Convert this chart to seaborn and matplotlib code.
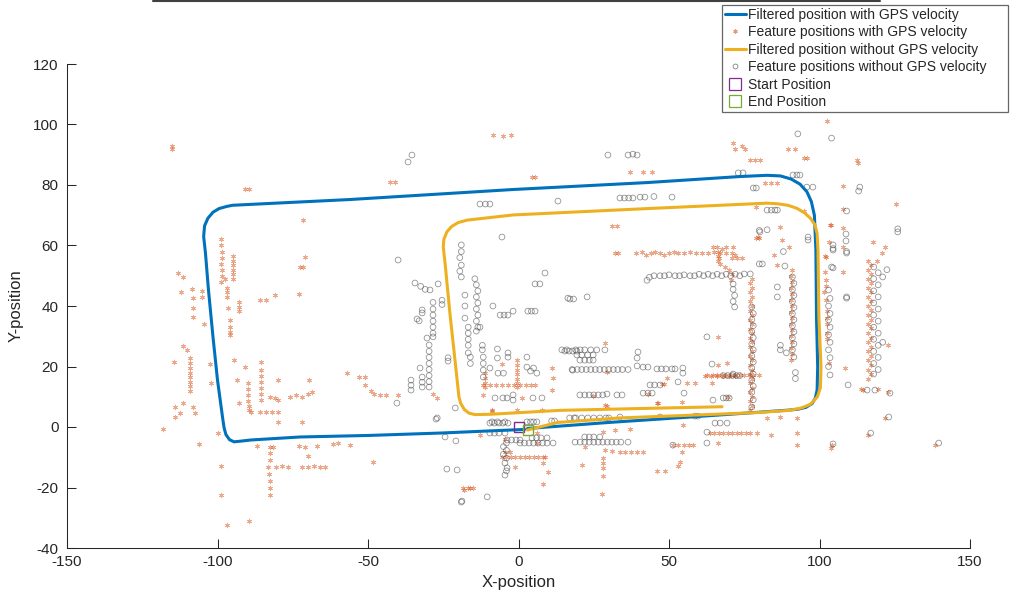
import numpy as np
import pandas as pd
import seaborn as sns
import matplotlib.pyplot as plt
from matplotlib.lines import Line2D

# Filtered trajectories (x, y)
traj_gps = [
    (2, -0.8), (-26, -2), (-50, -2.8), (-72.6, -3.3), (-89, -4.3), (-92.5, -4.7), (-94.5, -4.9),
    (-96, -4.2), (-97.2, -2.5), (-97.8, -0.3), (-98.2, 2.3),
    (-100, 15.5), (-101.5, 29.8), (-103, 45.3), (-104, 57.5), (-104.6, 63),
    (-104.3, 66.5), (-103.2, 69), (-101.5, 71), (-99.5, 72.2), (-97, 72.9), (-95, 73.3),
    (-56, 75.2), (-2, 78.5), (42.7, 80.8), (73.6, 82.8), (82.6, 83.2),
    (87, 83), (90.5, 82), (93.5, 80.3), (95.8, 77.8), (97.3, 74.5), (98.3, 70),
    (98.8, 58.5), (99, 36.4), (99.4, 19.8), (99.2, 12.2),
    (98.6, 9.5), (97.5, 7.7), (95.5, 6.5), (93, 5.9), (90, 5.6),
    (60, 3.5), (30, 1.5), (3, -0.5),
]
traj_nogps = [
    (3, -1), (13, 1.5), (33.7, 3), (60, 4), (80, 4.8), (90, 5.5),
    (94, 6.3), (97, 7.5), (99.3, 10), (100.3, 13),
    (100.5, 19.8), (99.8, 36.4), (99.5, 58.5), (99.2, 64),
    (98.5, 66.8), (97, 69), (95, 70.8), (92.5, 72.3), (89.5, 73.3), (86, 73.8), (82.6, 74),
    (42.7, 72.2), (-1.8, 70.1), (-17, 68.4),
    (-20, 67.6), (-22.2, 66.3), (-23.8, 64.5), (-24.8, 62), (-25, 59.5),
    (-24.4, 54.2), (-22.8, 37.7), (-21, 21.2), (-19.8, 10),
    (-19.2, 7.8), (-18, 5.8), (-16.5, 4.6), (-14.5, 4.1), (-9.5, 4.2),
    (13.8, 5.5), (40, 6.1), (67.6, 6.7),
]

start_pos = (0, 0)
end_pos = (3, -1)

# Feature positions with GPS velocity
feat_gps_left = [
    (-118, -0.5), (-115, 93), (-115, 92), (-113, 51), (-111.5, 49.5), (-112, 44.5), (-108.5, 45.6),
    (-108, 42.6), (-108, 39.3), (-108, 36.4), (-105, 44.9), (-105, 43), (-104.5, 34), (-111.5, 26.8),
    (-110, 25.5), (-109, 22.8), (-109, 21), (-109, 19.5), (-109, 18), (-109, 16.5), (-109, 15),
    (-109, 13.5), (-109, 12), (-114.5, 21.5), (-102.5, 20.8), (-102, 14.5), (-111.5, 8), (-114, 6.6),
    (-114, 3.3), (-112.5, 4.6), (-108, 6.6), (-107.5, 4.6), (-106, -5.6), (-100, -2), (-99, -12.9),
    (-99, -22.5), (-97, -32.5), (-89.5, -31),
    (-99, 62), (-99, 60), (-98.5, 58), (-98.5, 56), (-99, 54), (-98.5, 52), (-98.5, 50), (-99, 48),
    (-95, 56.5), (-95, 55), (-95, 53.5), (-95, 52), (-95, 50.5), (-95, 49),
    (-97.5, 49), (-97, 46), (-97, 44.5), (-97, 43), (-93, 41.3), (-93, 39.8), (-93, 38.3),
    (-96.5, 39.3), (-96, 35.4), (-96, 33), (-96, 31.5), (-96, 30.4), (-94.5, 22), (-91, 20),
    (-93.5, 15.5), (-93, 8), (-90, 14.5), (-90, 12.5), (-90, 10.5), (-90, 8.5), (-89.5, 7), (-89.5, 5.6),
    (-89, 5), (-86, 5), (-84, 5), (-82, 5), (-80, 5),
    (-85.5, 21.5), (-85.5, 19), (-85.5, 17), (-85.5, 15), (-85.5, 13), (-85.5, 11), (-85.5, 9),
    (-82.5, 10), (-81, 9.5), (-80, 9), (-80, 15.5), (-84, 42), (-86, 42), (-81, 43.6),
    (-71.5, 68.4), (-71, 56.3), (-72.5, 52.9), (-71.5, 52.9), (-73, 44),
    (-76, 10), (-74, 10.5), (-72, 10), (-70, 11), (-68.6, 11.5), (-69.5, 15.5), (-80, 1.7), (-72, 1.7),
    (-87, -6.3), (-82.6, -6.6), (-81.5, -6.6), (-73, -6.3), (-71, -6.6), (-67, -6.3), (-61.6, -5.6),
    (-60, -5.3), (-82.6, -8.6), (-82.6, -11), (-83, -15.5), (-82.6, -18), (-82.6, -20), (-82.6, -22.5),
    (-83.3, -13.2), (-80.5, -13.2), (-78.5, -12.8), (-76.5, -13.2), (-72, -13.2), (-70, -13.2),
    (-68, -12.8), (-66, -13.2), (-64.3, -13.2), (-70, -9.6), (-57, 17.9), (-91, 78.8), (-89.5, 78.8),
    (-53, 16.5), (-51, 16.5), (-51, 14), (-49, 12), (-48, 11), (-46, 10.5), (-44, 10.5), (-40, 10.6),
    (-42.7, 81), (-41, 81), (-48.5, -11.5), (-56, -6), (-18, -20.8), (-16, -20.2),
]
feat_gps_top = [
    (-8.5, 96.5), (-5, 96.2), (-2.5, 96.5), (4.5, 82.6), (5.5, 82.6), (37, 84.3), (41.4, 84.3),
    (44.4, 84.3), (71.3, 94), (74.3, 93), (75.3, 92), (72, 92), (77, 88.4), (78.5, 88.4), (80.2, 88.4),
    (82, 80.7), (84, 80.7), (86, 80.7), (89.6, 92), (92, 92), (79, 72.7), (87, 66), (31, 66.5),
    (32.7, 66.5), (79.5, 62.8), (95, 89), (96, 89), (102.5, 101.3), (112.5, 88.4), (112.8, 87.3),
    (107.8, 79.7), (125.4, 73.7), (95, 71.5),
]
feat_gps_right = [
    (107.8, 72.1), (103.8, 66.8), (107.8, 65.8), (103, 61.2), (107.8, 59.5), (102, 56.2), (107.8, 51.2),
    (101.8, 51.2), (102, 48.6), (102, 46.5), (101.5, 44.5), (102, 42), (102.5, 38.3), (102.5, 36),
    (102.5, 34), (102.5, 31), (102.5, 29), (103, 21), (108.5, 19.5), (104, -6), (103.8, -7),
    (116.2, 55), (117, 53.5), (116.2, 52), (117, 50.6), (116.2, 49), (117, 47.5), (116.2, 46),
    (117, 44.6), (116.2, 43), (117, 41.5), (116.2, 40), (117, 38.6), (116.2, 37), (117, 35.5),
    (116.2, 34), (117, 32.6), (116.2, 31), (117, 29.5), (116.2, 28), (117, 26.6), (116.2, 25),
    (117, 23.5), (116.2, 22), (117, 20.6), (116.2, 19), (117, 17.5), (116.2, 16),
    (117.8, 61.2), (120.8, 57.5), (121.8, 59.5), (119, 55), (122.8, 27), (114.5, 12.2), (113.8, 12.6),
    (119.4, 12.6), (122.8, 11.6), (121.8, 3), (116, -2.6), (138.4, -6),
    (90, 59.5), (85, 56.8), (86, 53.5), (87.6, 61.8), (79, 62.6), (80, 62.6), (103.5, 66.8), (101.8, 56.5),
    (64.6, 59.5), (66, 59.5), (67.5, 59), (69, 59.5), (71.3, 59.5), (66.3, 58), (66.3, 56.5), (66.3, 55),
    (71, 56), (72.5, 56), (74.2, 56),
    (77.5, 49), (77, 47.5), (77.5, 46), (77, 44.5), (77.5, 43), (77, 41.5), (77.5, 40), (77, 38.5),
    (77.5, 37), (77, 35.5), (77.5, 34), (77, 32.5), (77.5, 31), (77, 29.5), (77.5, 28), (77, 26.5),
    (77.5, 25), (77, 23.5), (77.5, 22), (77, 20.5), (77.5, 19), (77, 17.5), (77.5, 16), (77, 14.5),
    (77.5, 13), (77, 11.5), (77.5, 10), (77, 8.5), (77.5, 7), (77, 5.6),
    (91, 52), (90.5, 50), (91, 48), (90.5, 46), (91, 44), (90.5, 42), (91, 40), (90.5, 38), (91, 36),
    (90.5, 34), (91, 32), (90.5, 30), (91, 28), (90.5, 26), (91, 24), (90.5, 22),
    (62.6, 17.2), (64.5, 17.2), (66, 17.2), (67.5, 17.2), (69, 17.2), (70.5, 17.2), (72, 17.2),
    (73.5, 17.2), (75, 17.2), (76.5, 17.2), (78, 17.2), (80, 17.2),
    (92.5, 3), (92.5, -2), (92.5, -6), (87, 3.3), (82.6, 3), (84, -2.6),
    (63.6, -2), (65, -2), (66.5, -2), (68, -2), (69.5, -2), (71, -2), (72.5, -2), (74, -2), (75.5, -2),
    (77, -2), (79.2, -2), (66.3, -5.3),
]
feat_gps_center = [
    (32, 57.5), (33, 57.5), (39, 57.5), (41, 58), (42.5, 57), (44, 57.5), (45.5, 58), (47, 57.5),
    (48.5, 57), (50, 57.5), (51.5, 58), (53, 57.5), (55, 57.5), (57, 58), (59, 57.5), (61, 57.5),
    (63, 57.5), (65, 58), (67, 57.5), (69, 57.5), (71, 57.5), (72, 57),
    (66.5, 56), (67, 54), (68.5, 53), (70, 52), (71, 50.5), (70.5, 48.6),
    (66.3, 29.8), (28.7, 27.8), (29.4, 18.2), (47.7, 14.2), (49.3, 16.2), (48.5, 14.2), (56, 14.5),
    (58.6, 14.5), (64.3, 14.5), (62, 16.9), (64, 16.9), (66, 16.9), (68, 16.9), (70, 16.9), (72, 16.9),
    (66.3, 20.5), (69.3, 21), (24.8, 10.2), (43, 10.9), (28.7, 7.3), (46, 7.9), (54.3, 8.3), (69.6, 9.9),
    (-5.5, 20.8), (-0.5, 22), (-0.5, 20.5), (-0.5, 19), (-0.5, 17.5), (-0.5, 16), (-0.5, 14.5),
    (-0.5, 13.2), (-11, 17.8), (-11, 16.2), (-11, 14.6), (-11, 13.2),
    (-11.8, 13.9), (-9.5, 13.9), (-7.5, 13.9), (-5.5, 13.9), (-3.5, 13.9), (-1.5, 13.9), (0.5, 13.9),
    (2.5, 13.9), (4, 13.9), (5.5, 13.9),
    (11, 19.5), (11.5, 16.2), (11, 12.2), (-11.8, 10.6), (1, 9.6), (-8.8, 5.6), (-0.5, 5.6), (7.8, 5.6),
    (-27, 9.6), (-28.5, 11),
]
feat_gps_bottom = [
    (-12.8, -2.6), (-5.5, -9.9), (-4, -9.9), (-2.5, -9.9), (-1, -9.9), (0.5, -9.9), (2, -9.9),
    (3.5, -9.9), (5, -9.9), (6.5, -9.9), (8, -9.9), (8.8, -9.9),
    (-4.5, -8.3), (-2.8, -8.3), (-1.2, -13.2), (8, -11.9), (9.8, -14.9), (8, -18.8),
    (-18.4, -20.2), (-16.7, -20.2), (-15, -20.2), (6, -2), (22, -6.6), (21, -12.6), (28, -1.6),
    (28.7, -7.6), (28, -10.2), (28, -12), (28, -13.5), (28, -16.2), (27.7, -22.1), (31, -7.9), (32, -1),
    (33.7, -8.3), (35.5, -8.3), (37.5, -8.3), (39.5, -8.3), (41.4, -8.3),
    (37, -0.7), (46.3, 7.9), (29.4, 6.9), (53.7, -11.6), (53, -13), (46, -14.5), (48.7, -14.5),
    (51.3, -5.9), (53, -5.9), (55, -5.9), (56.5, -5.9), (58, -5.9),
    (54.3, -8.3), (54.7, 0.7), (-8.8, 5.3), (6, -5.3), (-4.5, -4),
]

# Feature positions without GPS velocity
feat_nogps_top = [
    (-35.4, 89.9), (-36.7, 87.6), (29.7, 89.9), (36.4, 89.9), (38, 90.2), (39.4, 89.9), (-12.8, 73.7),
    (-11, 73.7), (-9.5, 73.7), (13.1, 74.7), (33.7, 75.7), (35.2, 75.7), (36.6, 75.7), (38, 75.7),
    (40.4, 76), (42, 76), (45, 76.2), (51, 76), (-5.5, 62.8), (73, 84), (74.6, 84), (78, 79), (79, 79),
    (82.6, 71.7), (84, 71.7), (85.2, 71.7), (86, 71.7), (80.2, 64.5), (82.6, 65.2), (91.2, 83.3),
    (92.5, 83.3), (93.5, 83.3), (92.8, 96.9), (95.8, 79.3), (97.8, 79.3), (113.4, 79.3), (113, 78),
    (109, 71.4), (96.2, 62.8), (96.2, 61.8), (80, 65), (108.8, 61.5), (104.5, 60.2), (104.5, 59),
    (109, 58), (88, 58), (80, 53.9), (81, 53.9), (88.5, 53.2), (104.5, 52.6), (104, 95.5),
    (126, 65.5), (126, 64.5), (108.8, 63.8),
]
feat_nogps_right = [
    (42.7, 48.5), (43.5, 49.5), (45, 50), (47, 50), (48.5, 50), (50, 50.3), (52, 50), (53.5, 50),
    (55, 50.3), (57, 50), (58.5, 50), (60, 50.5), (61.5, 50), (63, 50.5), (64.5, 50), (66, 50.5),
    (67.5, 50), (69, 50.5), (70.5, 50), (72, 50.5), (73.5, 50), (75, 50.6), (77, 50.6),
    (71.3, 47.3), (71.3, 45.5), (71.8, 43.5), (71.3, 41.5), (71.8, 39.7),
    (77.5, 39.7), (78, 37.5), (77.5, 35.5), (78, 33.5), (77.5, 31.5), (78, 29.5), (77.5, 27.5),
    (78, 25.5), (77.5, 23.5), (78, 21.5), (77.5, 19.5), (78, 17.5), (77.5, 15.5), (78, 13.5),
    (77.5, 11.5), (78, 9), (77.5, 6.6),
    (91, 49.6), (91.5, 47.5), (91, 45.5), (91.5, 43.5), (91, 41.5), (91.5, 39.5), (91, 37.5),
    (91.5, 35.5), (91, 33.5), (91.5, 31.5), (91, 29.5), (91.5, 27.5), (91, 25.5), (91.5, 23.1),
    (86, 46.3), (86, 43), (87, 27), (87, 25.5), (89, 24.5), (92, 18), (92, 16),
    (103, 45.3), (103.5, 42.5), (103, 40), (103.5, 37.5), (103, 35.4), (103.5, 33), (103, 30.5),
    (103.5, 28), (103, 25.5), (103.5, 22.9), (103, 20), (103.5, 17.2),
    (104.5, 58.5), (109, 57.5), (104, 52.9), (109, 42.6), (109.5, 13.9),
    (118, 52.9), (119.5, 51), (118, 49), (119.5, 47), (118, 45), (119.5, 43), (118, 41), (119.5, 39),
    (118, 37), (119.5, 35), (118, 33), (119.5, 31), (118, 29), (119.5, 27), (118, 25), (119.5, 23),
    (118, 21), (119.5, 19), (118, 17.5),
    (122.4, 52), (121, 49.6), (121, 28), (115.8, 12.2), (118.4, 12.2), (123.4, 11.2), (123, 3.3),
    (117, -2), (139.6, -5.3), (104.5, -5.6), (109, 43),
]
feat_nogps_center = [
    (-40, 55.2), (-34.4, 47.6), (-32.5, 46.5), (-31, 45.5), (-29.4, 45.3), (-26.7, 47.3),
    (-28.4, 41.2), (-28.4, 39), (-28.4, 37), (-28.4, 35), (-28.4, 33), (-28.4, 31), (-28.4, 29.8),
    (-25.4, 41.9), (-25.4, 40.5), (-32, 38.7), (-32, 37.7), (-33.7, 35.7), (-33, 35.1), (-30.4, 29.4),
    (-29.7, 27.1), (-29.7, 25), (-29.7, 23), (-29.7, 21), (-29.7, 19), (-29.7, 17), (-29.7, 15),
    (-29.7, 13.2), (-32.7, 19.5), (-35.7, 15.5), (-35.7, 13.8), (-35.7, 12.2), (-32, 16.5), (-32, 14.8),
    (-32, 13.2), (-23.4, 22.9), (-23.4, 21.8), (-40.4, 7.9), (-27, 3), (-21, 6.3),
    (-19, 60.2), (-19, 58), (-19.5, 56), (-19, 53.5), (-19.5, 51.5), (-19, 49.6),
    (-14.5, 49), (-14, 47), (-13.5, 45), (-14, 43), (-13.5, 41), (-14, 39), (-13.5, 37), (-14, 35),
    (-13.5, 33), (-14, 31.7), (-17.8, 43.6), (-17.8, 40), (-17.8, 36),
    (-16.7, 33), (-16.7, 31), (-16.7, 29), (-16.7, 27), (-16.7, 24.5), (-12.8, 33), (-12, 27),
    (-12, 25.5), (-16, 23.1), (-16, 21), (-11.7, 23.1), (-11.7, 21), (-11.7, 18.8), (-11.7, 16.5),
    (-7, 25.8), (-7, 22.8), (-3.5, 24.5), (-3.5, 23.1), (2.8, 23.1), (-9.5, 19.5), (2.8, 19.8),
    (4, 18.5), (6.1, 17.8), (5, 19.5), (-6.8, 17.8), (-5, 17.8), (-7.8, 9.6), (-5.2, 9.6), (-3.8, 9.6),
    (-1.8, 10.6), (-1.8, 8.9), (4.8, 9.6), (7.8, 9.6), (8.8, 50.9), (5.5, 47.3), (7.1, 47.3),
    (-8.5, 40), (-6.1, 37), (-4.8, 37), (-3.5, 37), (-1.8, 38.3), (3.1, 38.3), (4.3, 38.3), (5.5, 38.3),
    (17.1, 42.3), (18.3, 42.3), (16.4, 42.6), (22.8, 43), (15.4, 25.1), (16.8, 25.1), (18, 25.1),
    (19.4, 25.1), (18, 18.8), (-9.5, 1.3), (-8, 1.3), (-6.5, 1.3), (-5.2, 1.3), (-3.5, 1.3), (2.8, 1.7),
    (4, 1.7), (5, 1.7), (6.1, 1.7), (11, 2), (12, 2), (17, 3), (18.5, 3),
    (14.4, 25.5), (16, 25.5), (19, 25.5), (20.5, 25.5), (22, 25.5), (24, 25.5), (26, 25.5), (28.7, 25.5),
    (19.4, 23.8), (21, 23.8), (23, 23.8), (24.8, 23.8), (20.4, 22.1), (22, 22.1), (23.5, 22.1),
    (24.8, 22.1), (39.7, 24.8), (39.4, 22.8), (39.4, 20.2),
    (17.8, 19), (19.5, 19), (21, 19), (22.5, 19), (24, 19), (25.5, 19), (27, 19), (28.5, 19), (30, 19),
    (31.5, 19), (33, 19), (34.5, 19), (36.4, 19),
    (41.4, 19.8), (43, 19.8), (46, 19.2), (47.5, 19.2), (49, 19.2), (51, 19.2), (52, 19.2), (54.6, 19.5),
    (54.6, 17.8), (64.3, 20.8), (71.3, 17.5), (68, 17), (69.5, 17), (71, 17), (72.5, 17), (73.5, 17),
    (53, 14.9), (43.7, 13.9), (45.2, 13.9), (47, 13.9),
    (20.4, 10.6), (22, 10.6), (23.5, 10.6), (25, 10.6), (26.5, 10.6), (28, 10.6), (29.4, 10.9),
    (32.7, 10.6), (34.4, 10.6), (41.4, 11.2), (43, 11.2), (44.4, 11.2), (55, 11.2), (64.6, 8.9),
    (68, 9.6), (69, 9.6), (70, 9.6), (47, 3.3), (58.6, 3.6), (65.3, 1.3), (67, 1.3), (69.3, 1.3),
    (19, 3), (21, 3), (23, 3), (25, 3), (27, 3), (29, 3), (30, 3), (62.6, 29.8),
]
feat_nogps_bottom = [
    (-8.8, 1.7), (-7, 1.7), (-4.5, 1.7), (33.7, 3.3), (59.6, 3.6), (-24.4, -3.3), (-20.8, -4.6),
    (-9.5, -2), (-8, -2), (-6.5, -2), (-4.5, -2), (-3.8, -4.3), (-2.3, -4.3), (-0.8, -4.3), (0.5, -4.3),
    (0.5, -5.3), (2, -5.3), (3.5, -5.3), (5, -5.3), (6.5, -5.3), (8, -5.3), (9.5, -5.3), (11.5, -5.3),
    (4.5, -3.6), (6, -3.6), (7.5, -3.6), (9.5, -3.6),
    (18.8, -5), (20.5, -5), (22, -5), (23.5, -5), (25, -5), (26.5, -5), (28, -5), (29.5, -5), (31, -5),
    (32.5, -5), (34, -5), (36.4, -5), (22, -3.3), (23.5, -3.3), (25, -3.3), (27, -3.3),
    (-4, -5.3), (-5, -6.5), (-4, -7.7), (-5, -9), (-4, -10.3), (-4.5, -11.9), (-3.8, -13.5),
    (-4.5, -15.9), (-4, -14.5), (-23.8, -13.9), (-20.4, -14.2), (-10.4, -23.1), (-18.8, -24.5),
    (51.3, -6), (62.6, -5.3), (62.6, -1.7), (-27.4, 2.6), (-19, -24.8),
]

BLUE = "#0072BD"
ORANGE = "#EDB120"
RED = "#D95319"
PURPLE = "#7E2F8E"
GREEN = "#77AC30"
ASTERISK = (6, 2, 0)


def to_df(*groups):
    pts = [p for g in groups for p in g]
    return pd.DataFrame(pts, columns=["x", "y"])


sns.set_style("ticks")
plt.rcParams["font.family"] = ["Liberation Sans", "DejaVu Sans"]
plt.rcParams["axes.unicode_minus"] = False

fig = plt.figure(figsize=(10.15, 5.94), dpi=100)
ax = fig.add_axes([67 / 1015, 46 / 594, 903 / 1015, 484 / 594])

gps_df = to_df(traj_gps)
nogps_df = to_df(traj_nogps)
fg = to_df(feat_gps_left, feat_gps_top, feat_gps_right, feat_gps_center, feat_gps_bottom)
fn = to_df(feat_nogps_top, feat_nogps_right, feat_nogps_center, feat_nogps_bottom)

sns.lineplot(data=gps_df, x="x", y="y", sort=False, estimator=None,
             color=BLUE, linewidth=2.2, ax=ax)
sns.scatterplot(data=fg, x="x", y="y", marker=ASTERISK, color=RED, s=11,
                linewidth=0.6, alpha=0.5, ax=ax)
sns.lineplot(data=nogps_df, x="x", y="y", sort=False, estimator=None,
             color=ORANGE, linewidth=2.2, ax=ax)
sns.scatterplot(data=fn, x="x", y="y", marker="o", color="0.3", s=17,
                facecolor="none", edgecolor="0.3", linewidth=0.6, alpha=0.6, ax=ax)
ax.plot(*start_pos, marker="s", ms=7, mfc="none", mec=PURPLE, mew=1.0, ls="none")
ax.plot(*end_pos, marker="s", ms=7, mfc="none", mec=GREEN, mew=1.0, ls="none")

ax.set_xlim(-150, 150)
ax.set_ylim(-40, 120)
ax.set_xticks(np.arange(-150, 151, 50))
ax.set_yticks(np.arange(-40, 121, 20))
ax.tick_params(direction="in", length=6.5, width=0.75, labelsize=11,
               colors="0.15", labelcolor="0.15")
ax.tick_params(axis="x", pad=5)
ax.tick_params(axis="y", pad=6)
sns.despine(ax=ax)
for s in ["left", "bottom"]:
    ax.spines[s].set_color("0.15")
    ax.spines[s].set_linewidth(0.75)

ax.set_xlabel("X-position", fontsize=12, color="0.15")
ax.set_ylabel("Y-position", fontsize=12, color="0.15")
ax.xaxis.set_label_coords(0.5, -0.055)
ax.yaxis.set_label_coords(-0.048, 0.5)

handles = [
    Line2D([], [], color=BLUE, lw=2.2),
    Line2D([], [], color=RED, marker=ASTERISK, ms=3, mew=0.8, ls="none", alpha=0.6),
    Line2D([], [], color=ORANGE, lw=2.2),
    Line2D([], [], color="0.3", marker="o", ms=3.5, mfc="none", mew=0.6, ls="none", alpha=0.7),
    Line2D([], [], color=PURPLE, marker="s", ms=8, mfc="none", mew=0.9, ls="none"),
    Line2D([], [], color=GREEN, marker="s", ms=8, mfc="none", mew=0.9, ls="none"),
]
labels = [
    "Filtered position with GPS velocity",
    "Feature positions with GPS velocity",
    "Filtered position without GPS velocity",
    "Feature positions without GPS velocity",
    "Start Position",
    "End Position",
]
leg = ax.legend(handles, labels, loc="upper left",
                bbox_to_anchor=(722 / 1015, 0, 286 / 1015, 1 - 5 / 594),
                bbox_transform=fig.transFigure, mode="expand", borderaxespad=0,
                fontsize=10, frameon=True, fancybox=False, framealpha=1,
                edgecolor="0.4", borderpad=0.2, labelspacing=0.25,
                handlelength=1.5, handletextpad=0.15)
leg.get_frame().set_linewidth(0.9)

# dark strip along the very top edge of the image
fig.add_artist(Line2D([153 / 1015, 880 / 1015], [0.998, 0.998], color="0.25", lw=1.5))

fig.savefig("out.png", dpi=100)
